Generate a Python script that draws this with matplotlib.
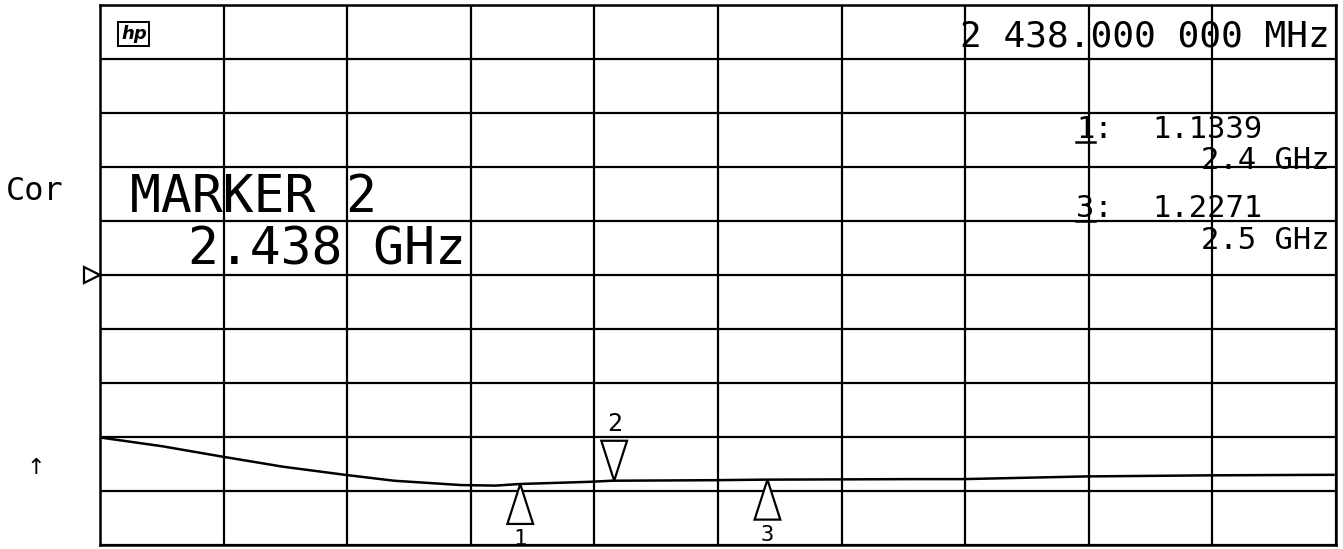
import numpy as np
import matplotlib.pyplot as plt
import matplotlib.transforms as mtransforms
from matplotlib.patches import Polygon

# sweep of the analyzer: frequency (GHz) and SWR
freq = [2.231, 2.255, 2.279, 2.304, 2.329, 2.349, 2.376, 2.390, 2.400, 2.428,
        2.437, 2.478, 2.498, 2.558, 2.579, 2.629, 2.679, 2.729]
swr = [1.985, 1.83, 1.64, 1.45, 1.30, 1.19, 1.11, 1.10, 1.13, 1.17,
       1.19, 1.20, 1.21, 1.22, 1.22, 1.27, 1.29, 1.30]

# markers: number, frequency, pointing up (True) or down
marker_ids = ['1', '2', '3']
marker_freq = [2.4, 2.438, 2.5]
marker_up = [True, False, True]

f_start, f_stop = 2.23, 2.73
ref_level = 5
top_label = '2 438.000 000 MHz'
readout = [('1', '1.1339', '2.4 GHz'), ('3', '1.2271', '2.5 GHz')]

W, H = 1343, 549
X0, Y0, AW, AH = 100, 5, 1236, 540
fig = plt.figure(figsize=(W / 100, H / 100), dpi=100)
ax = fig.add_axes([X0 / W, (H - Y0 - AH) / H, AW / W, AH / H])
ax.set_xlim(f_start, f_stop)
ax.set_ylim(0, 10)
ax.set_xticks(np.linspace(f_start, f_stop, 11))
ax.set_yticks(np.arange(0, 11, 1))
ax.tick_params(length=0, labelbottom=False, labelleft=False)
ax.grid(True, color='black', lw=1.6)
for s in ax.spines.values():
    s.set_linewidth(1.8)


def px(x, y):
    # picture pixel -> axes fraction
    return (x - X0) / AW, 1 - (y - Y0) / AH


mono = 'DejaVu Sans Mono'

# trace
ax.plot(freq, swr, color='black', lw=1.8, zorder=3)

# marker triangles, apex on the trace
dx, dy = 0.0052, 0.74
for mid, mf, up in zip(marker_ids, marker_freq, marker_up):
    y0 = np.interp(mf, freq, swr)
    if up:
        pts = [(mf, y0), (mf - dx, y0 - dy), (mf + dx, y0 - dy)]
        ax.text(mf, y0 - dy - 0.1, mid, ha='center', va='top', fontsize=16,
                family=mono, clip_on=False)
    else:
        pts = [(mf, y0), (mf - dx, y0 + dy), (mf + dx, y0 + dy)]
        ax.text(mf, y0 + dy + 0.08, mid, ha='center', va='bottom', fontsize=18,
                family=mono)
    ax.add_patch(Polygon(pts, closed=True, fill=True, fc='white', ec='black',
                         lw=1.6, zorder=4, clip_on=False))

# reference level pointer left of the grid
trans = mtransforms.blended_transform_factory(ax.transAxes, ax.transData)
ax.plot([-0.0065], [ref_level], marker='>', ms=11, mfc='white', mec='black',
        mew=1.6, transform=trans, clip_on=False)

# annotation text
ax.text(*px(130, 212), 'MARKER 2', transform=ax.transAxes,
        fontsize=37, family=mono, va='baseline', ha='left')
ax.text(*px(188, 265), '2.438 GHz', transform=ax.transAxes,
        fontsize=37, family=mono, va='baseline', ha='left')
ax.text(*px(1330, 47), top_label, transform=ax.transAxes,
        fontsize=26, family=mono, va='baseline', ha='right')

rows = [(138, 169), (217, 249)]
for (num, val, fr), (yb1, yb2) in zip(readout, rows):
    ax.text(*px(1076, yb1), num + ':', transform=ax.transAxes,
            fontsize=22, family=mono, va='baseline', ha='left')
    ax.plot(*zip(px(1076, yb1 + 4), px(1095, yb1 + 4)),
            transform=ax.transAxes, color='black', lw=1.8)
    ax.text(*px(1152, yb1), val, transform=ax.transAxes,
            fontsize=22, family=mono, va='baseline', ha='left')
    ax.text(*px(1330, yb2), fr, transform=ax.transAxes,
            fontsize=22, family=mono, va='baseline', ha='right')

# hp logo
ax.text(*px(121, 34), 'hp', transform=ax.transAxes, fontsize=13,
        style='italic', weight='bold', va='center', ha='left',
        bbox=dict(boxstyle='square,pad=0.15', fc='white', ec='black', lw=1.4))

# left side labels
fig.text(6 / W, 1 - 200 / H, 'Cor', fontsize=23, family=mono, va='baseline')
fig.text(36 / W, 1 - 468 / H, '↑', fontsize=16, ha='center', va='center')

fig.savefig('out.png', dpi=100, facecolor='white')
